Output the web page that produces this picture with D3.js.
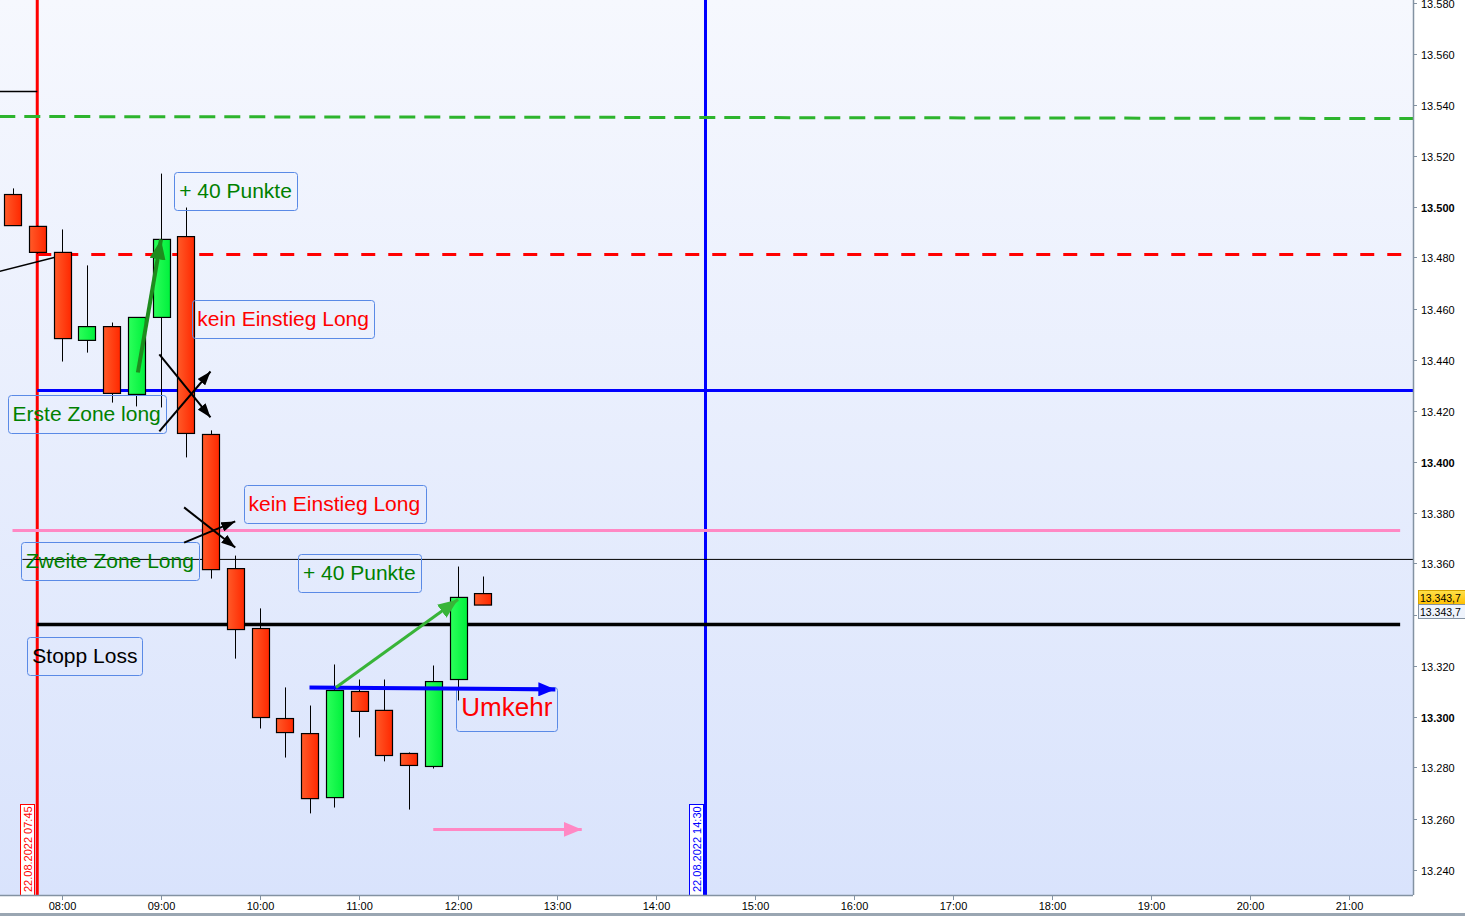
<!DOCTYPE html>
<html>
<head>
<meta charset="utf-8">
<script src="https://cdn.jsdelivr.net/npm/d3@7"></script>
<style>
body { margin: 0; background: #fff; }
text { font-family: "Liberation Sans", Arial, sans-serif; }
</style>
</head>
<body>
<svg width="1465" height="916"></svg>
<script>
// 15 minute candles, 22.08.2022
var times = ["07:30","07:45","08:00","08:15","08:30","08:45","09:00","09:15","09:30","09:45",
             "10:00","10:15","10:30","10:45","11:00","11:15","11:30","11:45","12:00","12:15"];
var open  = [13504.7,13492.2,13482.0,13447.5,13452.9,13426.3,13456.5,13488.2,13410.6,13358.0,
             13334.5,13299.2,13293.3,13268.2,13309.8,13302.4,13285.5,13280.4,13314.5,13348.2];
var high  = [13507.1,13492.5,13491.0,13476.9,13454.5,13456.5,13512.9,13499.6,13412.2,13363.1,
             13342.4,13311.4,13304.3,13320.4,13314.5,13314.5,13285.9,13320.0,13358.8,13354.9];
var low   = [13492.5,13481.5,13439.2,13442.7,13423.1,13421.6,13421.2,13401.6,13354.1,13322.7,
             13295.3,13283.9,13262.0,13264.3,13291.8,13282.4,13263.5,13279.6,13306.3,13343.7];
var close = [13492.5,13482.0,13448.2,13452.9,13426.7,13456.5,13487.1,13411.0,13357.6,13334.1,
             13299.6,13293.7,13267.8,13310.2,13302.0,13284.7,13280.8,13313.7,13346.7,13343.7];

var priceTicks = d3.range(13240, 13581, 20);
var timeTicks = ["08:00","09:00","10:00","11:00","12:00","13:00","14:00","15:00",
                 "16:00","17:00","18:00","19:00","20:00","21:00"];

// vertical markers
var markerTimes = ["07:45", "14:30"];
var markerLabels = ["22.08.2022 07:45", "22.08.2022 14:30"];

// drawn lines: [name, t1, p1, t2, p2]
var drawnLines = [
  ["altHoch",  "07:22", 13545.1, "07:45", 13545.1],
  ["trend",    "07:22", 13474.5, "08:00", 13480.8],
  ["ziel",     "07:22", 13535.3, "21:39", 13534.5],
  ["rot",      "07:45", 13481.2, "21:39", 13481.2],
  ["zone1",    "07:45", 13427.8, "21:39", 13427.8],
  ["zone2",    "07:30", 13372.9, "21:31", 13372.9],
  ["vortag",   "07:36", 13361.6, "21:39", 13361.6],
  ["stopp",    "07:45", 13336.1, "21:31", 13336.1]
];

// arrows: [name, t1, p1, t2, p2]
var arrows = [
  ["blau",   "10:30", 13311.4, "12:59", 13310.6],
  ["rosa",   "11:45", 13255.7, "13:15", 13255.7],
  ["gruen1", "08:46", 13434.9, "09:00", 13487.1],
  ["gruen2", "10:46", 13311.4, "12:00", 13345.9],
  ["schwarz","08:59", 13442.0, "09:30", 13417.3],
  ["schwarz","08:59", 13411.8, "09:30", 13435.3],
  ["schwarz","09:14", 13382.0, "09:45", 13366.3],
  ["schwarz","09:14", 13368.2, "09:45", 13376.5]
];

// notes: text, anchor time, anchor price (top left of box), kind
var noteTexts  = ["+ 40 Punkte","kein Einstieg Long","Erste Zone long","kein Einstieg Long",
                  "Zweite Zone Long","+ 40 Punkte","Stopp Loss","Umkehr"];
var noteTimes  = ["09:08","09:19","07:27","09:50","07:35","10:23","07:39","11:59"];
var notePrices = [13513.7,13463.5,13425.9,13390.6,13368.6,13363.9,13331.0,13311.4];
var noteKinds  = ["gut","schlecht","gut","schlecht","gut","gut","neutral","gross"];

function toMin(s) {
  var p = s.split(":");
  return +p[0] * 60 + +p[1];
}

var svg = d3.select("svg");
var plotRight = 1413, plotBottom = 895;

var x = d3.scaleLinear().domain([480, 1260]).range([62, 1349]);
var y = d3.scaleLinear().domain([13240, 13580]).range([869.5, 2.5]);

var defs = svg.append("defs");
var bg = defs.append("linearGradient").attr("id", "bg").attr("x1", 0).attr("y1", 0).attr("x2", 0).attr("y2", 1);
bg.append("stop").attr("offset", "0%").attr("stop-color", "#f6f8fe");
bg.append("stop").attr("offset", "100%").attr("stop-color", "#d9e3fc");
var gr = defs.append("linearGradient").attr("id", "rot").attr("x1", 0).attr("x2", 1);
gr.append("stop").attr("offset", "0%").attr("stop-color", "#ff5a28");
gr.append("stop").attr("offset", "100%").attr("stop-color", "#ff2800");
var gg = defs.append("linearGradient").attr("id", "gruen").attr("x1", 0).attr("x2", 1);
gg.append("stop").attr("offset", "0%").attr("stop-color", "#2cff5a");
gg.append("stop").attr("offset", "100%").attr("stop-color", "#00f03c");
var gy = defs.append("linearGradient").attr("id", "gelb").attr("x1", 0).attr("y1", 0).attr("x2", 0).attr("y2", 1);
gy.append("stop").attr("offset", "0%").attr("stop-color", "#ffe04a");
gy.append("stop").attr("offset", "100%").attr("stop-color", "#ffbf00");

var clip = defs.append("clipPath").attr("id", "plot");
clip.append("rect").attr("x", 0).attr("y", 0).attr("width", plotRight).attr("height", plotBottom);

// arrow heads
function head(id, color, len, wid) {
  defs.append("marker").attr("id", id)
    .attr("markerUnits", "userSpaceOnUse")
    .attr("markerWidth", len).attr("markerHeight", wid)
    .attr("refX", len).attr("refY", wid / 2)
    .attr("orient", "auto")
    .append("path").attr("d", "M0,0L" + len + "," + wid / 2 + "L0," + wid + "Z").attr("fill", color);
}

svg.append("rect").attr("width", 1465).attr("height", 916).attr("fill", "#fff");
svg.append("rect").attr("width", plotRight).attr("height", plotBottom).attr("fill", "url(#bg)");

var plot = svg.append("g").attr("clip-path", "url(#plot)");

// line styles by name
var lineStyle = {
  altHoch: {c: "#000", w: 1.5},
  trend:   {c: "#000", w: 1.5},
  ziel:    {c: "#2db42d", w: 3, d: "16,9"},
  rot:     {c: "#ff0000", w: 3, d: "14,13"},
  zone1:   {c: "#0000ff", w: 3},
  zone2:   {c: "#ff88c4", w: 3},
  vortag:  {c: "#000", w: 1},
  stopp:   {c: "#000", w: 3.5}
};
var arrowStyle = {
  blau:    {c: "#0000ff", w: 4, l: 17, h: 14},
  rosa:    {c: "#ff88c4", w: 3, l: 18, h: 15},
  gruen1:  {c: "#1e8c1e", w: 4, l: 20, h: 16},
  gruen2:  {c: "#38b438", w: 3, l: 20, h: 16},
  schwarz: {c: "#000", w: 2, l: 14, h: 10}
};
Object.keys(arrowStyle).forEach(function(k) {
  var s = arrowStyle[k];
  head("pf-" + k, s.c, s.l, s.h);
});

// vertical time markers
var markerColors = ["#ff0000", "#0000ff"];
markerTimes.forEach(function(t, i) {
  plot.append("line")
    .attr("x1", x(toMin(t))).attr("x2", x(toMin(t)))
    .attr("y1", 0).attr("y2", plotBottom)
    .attr("stroke", markerColors[i]).attr("stroke-width", 3);
});

// horizontal / trend lines
plot.selectAll(".lvl").data(drawnLines).enter().append("line")
  .attr("class", "lvl")
  .attr("x1", function(d) { return x(toMin(d[1])); })
  .attr("y1", function(d) { return y(d[2]); })
  .attr("x2", function(d) { return x(toMin(d[3])); })
  .attr("y2", function(d) { return y(d[4]); })
  .attr("stroke", function(d) { return lineStyle[d[0]].c; })
  .attr("stroke-width", function(d) { return lineStyle[d[0]].w; })
  .attr("stroke-dasharray", function(d) { return lineStyle[d[0]].d || null; });

// candles
var candles = times.map(function(t, i) {
  return {t: toMin(t), o: open[i], h: high[i], l: low[i], c: close[i]};
});
var half = 8.5;
var cg = plot.selectAll(".candle").data(candles).enter().append("g").attr("class", "candle");
cg.append("line")
  .attr("x1", function(d) { return Math.round(x(d.t)) + 0.5; })
  .attr("x2", function(d) { return Math.round(x(d.t)) + 0.5; })
  .attr("y1", function(d) { return y(d.h); })
  .attr("y2", function(d) { return y(d.l); })
  .attr("stroke", "#000").attr("stroke-width", 1);
cg.append("rect")
  .attr("x", function(d) { return Math.round(x(d.t) - half) + 0.5; })
  .attr("width", half * 2)
  .attr("y", function(d) { return y(Math.max(d.o, d.c)); })
  .attr("height", function(d) { return Math.max(1, y(Math.min(d.o, d.c)) - y(Math.max(d.o, d.c))); })
  .attr("fill", function(d) { return d.c >= d.o ? "url(#gruen)" : "url(#rot)"; })
  .attr("stroke", "#000").attr("stroke-width", 1.2);

// notes
var noteStyle = {
  gut:      {c: "#008000", f: 21, h: 38, b: 26},
  schlecht: {c: "#ff0000", f: 21, h: 38, b: 26},
  neutral:  {c: "#000000", f: 21, h: 38, b: 26},
  gross:    {c: "#ff0000", f: 26, h: 44, b: 29}
};
noteTexts.forEach(function(txt, i) {
  var s = noteStyle[noteKinds[i]];
  var bx = x(toMin(noteTimes[i])), by = y(notePrices[i]);
  var g = plot.append("g");
  var rect = g.append("rect");
  var t = g.append("text")
    .attr("x", bx + 5).attr("y", by + s.b)
    .attr("font-size", s.f).attr("fill", s.c)
    .text(txt);
  var w = t.node().getComputedTextLength();
  rect.attr("x", Math.round(bx) + 0.5).attr("y", Math.round(by) + 0.5)
    .attr("width", Math.round(w + 10)).attr("height", s.h)
    .attr("rx", 3).attr("fill", "none")
    .attr("stroke", "#5a8ae6").attr("stroke-width", 1);
});

// arrows
plot.selectAll(".pfeil").data(arrows).enter().append("line")
  .attr("class", "pfeil")
  .attr("x1", function(d) { return x(toMin(d[1])); })
  .attr("y1", function(d) { return y(d[2]); })
  .attr("x2", function(d) { return x(toMin(d[3])); })
  .attr("y2", function(d) { return y(d[4]); })
  .attr("stroke", function(d) { return arrowStyle[d[0]].c; })
  .attr("stroke-width", function(d) { return arrowStyle[d[0]].w; })
  .attr("marker-end", function(d) { return "url(#pf-" + d[0] + ")"; });

// vertical date labels
markerTimes.forEach(function(t, i) {
  var mx = x(toMin(t));
  plot.append("rect")
    .attr("x", Math.round(mx) - 16.5).attr("y", 804.5)
    .attr("width", 14).attr("height", 92)
    .attr("fill", "#fff").attr("stroke", markerColors[i]).attr("stroke-width", 1);
  plot.append("text")
    .attr("transform", "translate(" + (Math.round(mx) - 5.5) + ",892) rotate(-90)")
    .attr("font-size", 11).attr("fill", markerColors[i])
    .text(markerLabels[i]);
});

// right price axis
function fmtPrice(v) {
  var s = String(Math.round(v));
  return s.slice(0, s.length - 3) + "." + s.slice(-3);
}
var last = close[close.length - 1];
var ly = Math.round(y(last));

var ax = svg.append("g");
ax.append("line").attr("x1", plotRight + 0.5).attr("x2", plotRight + 0.5)
  .attr("y1", 0).attr("y2", plotBottom).attr("stroke", "#8392a2").attr("stroke-width", 1.5);
priceTicks.forEach(function(v) {
  var yy = Math.round(y(v)) + 0.5;
  ax.append("line").attr("x1", plotRight).attr("x2", plotRight + 4)
    .attr("y1", yy).attr("y2", yy).attr("stroke", "#8392a2");
  // label hidden under the current price boxes
  if (Math.abs(yy - ly) < 16) return;
  ax.append("text").attr("x", plotRight + 8).attr("y", yy + 4)
    .attr("font-size", 11)
    .attr("font-weight", v % 100 === 0 ? "bold" : "normal")
    .attr("fill", "#000")
    .text(fmtPrice(v));
});

// current price boxes
var lastTxt = fmtPrice(Math.floor(last)) + "," + Math.round((last % 1) * 10);
ax.append("rect").attr("x", plotRight + 5.5).attr("y", ly - 14.5).attr("width", 48).attr("height", 14)
  .attr("fill", "url(#gelb)").attr("stroke", "#d6a400");
ax.append("text").attr("x", plotRight + 7).attr("y", ly - 3.5).attr("font-size", 10.5).text(lastTxt);
ax.append("rect").attr("x", plotRight + 5.5).attr("y", ly - 0.5).attr("width", 48).attr("height", 14)
  .attr("fill", "#eef3fc").attr("stroke", "#8392a2");
ax.append("text").attr("x", plotRight + 7).attr("y", ly + 10.5).attr("font-size", 10.5).text(lastTxt);

// bottom time axis
var bx = svg.append("g");
bx.append("line").attr("x1", 0).attr("x2", plotRight)
  .attr("y1", plotBottom + 0.5).attr("y2", plotBottom + 0.5).attr("stroke", "#8392a2").attr("stroke-width", 1.5);
timeTicks.forEach(function(t) {
  var xx = Math.round(x(toMin(t))) + 0.5;
  bx.append("line").attr("x1", xx).attr("x2", xx).attr("y1", plotBottom).attr("y2", plotBottom + 5)
    .attr("stroke", "#8392a2");
  bx.append("text").attr("x", xx).attr("y", 910).attr("text-anchor", "middle")
    .attr("font-size", 11).text(t);
});
svg.append("rect").attr("x", 0).attr("y", 913).attr("width", 1465).attr("height", 3).attr("fill", "#9aa6b2");
</script>
</body>
</html>
